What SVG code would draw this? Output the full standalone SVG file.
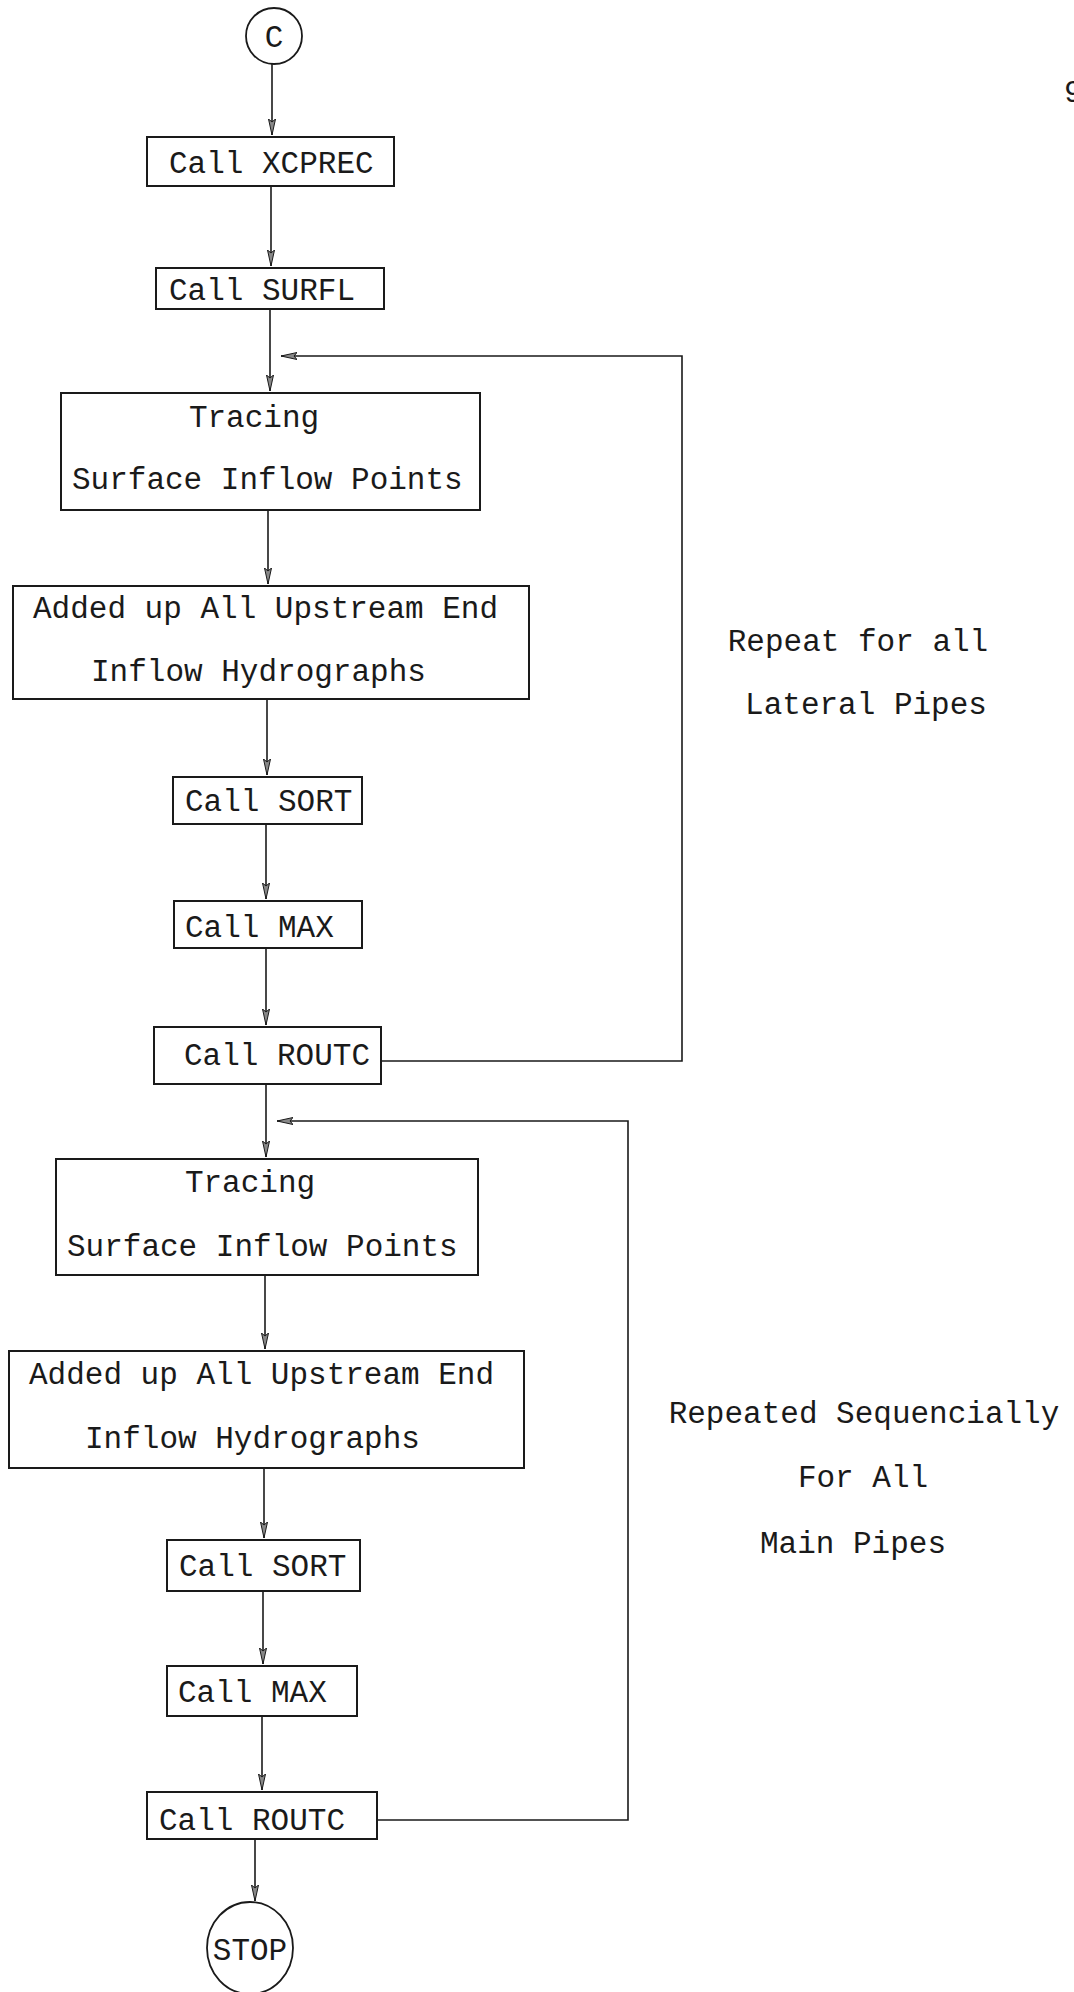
<svg xmlns="http://www.w3.org/2000/svg" width="1074" height="1992" viewBox="0 0 1074 1992">
  <style>
    .box { fill: #ffffff; stroke: #1a1a1a; stroke-width: 2; }
    .term { fill: #ffffff; stroke: #1a1a1a; stroke-width: 1.8; }
    .lbl { font-family: "Liberation Mono", "DejaVu Sans Mono", monospace; font-size: 31px; fill: #1a1a1a; }
    .note { font-family: "Liberation Mono", "DejaVu Sans Mono", monospace; font-size: 31px; fill: #1a1a1a; }
    .wire { fill: none; stroke: #1a1a1a; stroke-width: 1.6; }
  </style>
  <defs>
    <marker id="arrow" markerUnits="userSpaceOnUse" markerWidth="16" markerHeight="8" viewBox="0 0 16 8" refX="16" refY="4" orient="auto">
      <path d="M0,0.5 L16,4 L0,7.5 L3,4 Z" fill="#888888" stroke="#1a1a1a" stroke-width="1"/>
    </marker>
  </defs>
  <rect width="1074" height="1992" fill="#ffffff"/>

  <!-- page number, partly off the sheet -->
  <text x="1064" y="102" class="note" font-size="24px">9</text>

  <!-- connectors -->
  <g id="connectors">
    <line class="wire" x1="272" y1="64" x2="272" y2="135" marker-end="url(#arrow)"/>
    <line class="wire" x1="271" y1="186" x2="271" y2="266" marker-end="url(#arrow)"/>
    <line class="wire" x1="270" y1="309" x2="270" y2="391" marker-end="url(#arrow)"/>
    <line class="wire" x1="268" y1="510" x2="268" y2="584" marker-end="url(#arrow)"/>
    <line class="wire" x1="267" y1="699" x2="267" y2="775" marker-end="url(#arrow)"/>
    <line class="wire" x1="266" y1="824" x2="266" y2="899" marker-end="url(#arrow)"/>
    <line class="wire" x1="266" y1="948" x2="266" y2="1025" marker-end="url(#arrow)"/>
    <line class="wire" x1="266" y1="1084" x2="266" y2="1157" marker-end="url(#arrow)"/>
    <line class="wire" x1="265" y1="1275" x2="265" y2="1349" marker-end="url(#arrow)"/>
    <line class="wire" x1="264" y1="1468" x2="264" y2="1538" marker-end="url(#arrow)"/>
    <line class="wire" x1="263" y1="1591" x2="263" y2="1664" marker-end="url(#arrow)"/>
    <line class="wire" x1="262" y1="1716" x2="262" y2="1790" marker-end="url(#arrow)"/>
    <line class="wire" x1="255" y1="1839" x2="255" y2="1901" marker-end="url(#arrow)"/>
    <!-- loop back over the lateral pipes -->
    <polyline class="wire" points="381,1061 682,1061 682,356 281,356" marker-end="url(#arrow)"/>
    <!-- loop back over the main pipes -->
    <polyline class="wire" points="377,1820 628,1820 628,1121 277,1121" marker-end="url(#arrow)"/>
  </g>

  <g id="start">
    <circle class="term" cx="274" cy="36" r="28"/>
    <text class="lbl" x="274" y="47" text-anchor="middle">C</text>
  </g>

  <g id="xcprec">
    <rect class="box" x="147" y="137" width="247" height="49"/>
    <text class="lbl" x="169" y="173">Call XCPREC</text>
  </g>

  <g id="surfl">
    <rect class="box" x="156" y="268" width="228" height="41"/>
    <text class="lbl" x="169" y="300">Call SURFL</text>
  </g>

  <g id="trace-lateral">
    <rect class="box" x="61" y="393" width="419" height="117"/>
    <text class="lbl" x="254" y="427" text-anchor="middle">Tracing</text>
    <text class="lbl" x="72" y="489">Surface Inflow Points</text>
  </g>

  <g id="addup-lateral">
    <rect class="box" x="13" y="586" width="516" height="113"/>
    <text class="lbl" x="33" y="618">Added up All Upstream End</text>
    <text class="lbl" x="91" y="681">Inflow Hydrographs</text>
  </g>

  <g id="sort-lateral">
    <rect class="box" x="173" y="777" width="189" height="47"/>
    <text class="lbl" x="185" y="811">Call SORT</text>
  </g>

  <g id="max-lateral">
    <rect class="box" x="174" y="901" width="188" height="47"/>
    <text class="lbl" x="185" y="937">Call MAX</text>
  </g>

  <g id="routc-lateral">
    <rect class="box" x="154" y="1027" width="227" height="57"/>
    <text class="lbl" x="184" y="1065">Call ROUTC</text>
  </g>

  <g id="trace-main">
    <rect class="box" x="56" y="1159" width="422" height="116"/>
    <text class="lbl" x="250" y="1192" text-anchor="middle">Tracing</text>
    <text class="lbl" x="67" y="1256">Surface Inflow Points</text>
  </g>

  <g id="addup-main">
    <rect class="box" x="9" y="1351" width="515" height="117"/>
    <text class="lbl" x="29" y="1384">Added up All Upstream End</text>
    <text class="lbl" x="85" y="1448">Inflow Hydrographs</text>
  </g>

  <g id="sort-main">
    <rect class="box" x="167" y="1540" width="193" height="51"/>
    <text class="lbl" x="179" y="1576">Call SORT</text>
  </g>

  <g id="max-main">
    <rect class="box" x="167" y="1666" width="190" height="50"/>
    <text class="lbl" x="178" y="1702">Call MAX</text>
  </g>

  <g id="routc-main">
    <rect class="box" x="147" y="1792" width="230" height="47"/>
    <text class="lbl" x="159" y="1830">Call ROUTC</text>
  </g>

  <g id="stop">
    <ellipse class="term" cx="250" cy="1948" rx="43" ry="46"/>
    <text class="lbl" x="250" y="1960" text-anchor="middle" font-size="28px">STOP</text>
  </g>

  <g id="note-lateral">
    <text class="note" x="858" y="651" text-anchor="middle">Repeat for all</text>
    <text class="note" x="866" y="714" text-anchor="middle">Lateral Pipes</text>
  </g>

  <g id="note-main">
    <text class="note" x="864" y="1423" text-anchor="middle">Repeated Sequencially</text>
    <text class="note" x="863" y="1487" text-anchor="middle">For All</text>
    <text class="note" x="853" y="1553" text-anchor="middle">Main Pipes</text>
  </g>
</svg>
